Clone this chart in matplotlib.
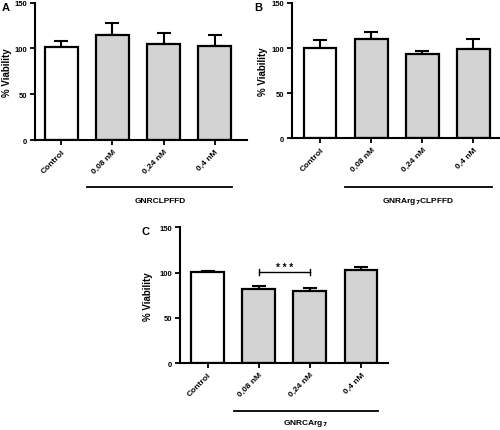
import matplotlib
matplotlib.use("Agg")
import matplotlib.pyplot as plt

plt.rcParams['font.family'] = ['Liberation Sans', 'DejaVu Sans']
plt.rcParams['font.weight'] = 'bold'

categories = ["Control", "0,08 nM", "0,24 nM", "0,4 nM"]
vals_A = [101, 115, 105, 102.5]
err_A = [7.5, 12.5, 11.5, 12]
vals_B = [100.5, 110.5, 93.5, 98.5]
err_B = [8, 7, 3, 11.5]
vals_C = [100.5, 82.5, 80, 102.5]
err_C = [1, 2.5, 3, 4]
group_A = "GNRCLPFFD"
group_B = "GNRArg$_{7}$CLPFFD"
group_C = "GNRCArg$_{7}$"
yticks = [0, 50, 100, 150]

W, H = 500, 431
fig = plt.figure(figsize=(5, 4.31), dpi=100)

def px_axes(left, right, top, bottom):
    return fig.add_axes([left / W, 1 - bottom / H, (right - left) / W, (bottom - top) / H])

def panel(ax, vals, errs, xlim, letter, lx, ly, ylab_x):
    colors = ['white', '#d3d3d3', '#d3d3d3', '#d3d3d3']
    x = list(range(len(vals)))
    ax.bar(x, vals, width=0.64, color=colors, edgecolor='black', linewidth=1.6, zorder=2)
    ax.errorbar(x, vals, yerr=[[0] * len(errs), errs], fmt='none', ecolor='black',
                elinewidth=1.5, capsize=5, capthick=1.5, zorder=1)
    ax.set_xlim(*xlim)
    ax.set_ylim(0, 150)
    ax.set_yticks(yticks)
    ax.set_xticks(x)
    ax.set_xticklabels(categories, rotation=45, ha='right', rotation_mode='anchor',
                       fontsize=6, fontweight='bold')
    ax.tick_params(axis='both', width=1.3, length=3.5, pad=2)
    ax.tick_params(axis='y', labelsize=5.5)
    for lab in ax.get_yticklabels():
        lab.set_fontweight('bold')
    for s in ['top', 'right']:
        ax.spines[s].set_visible(False)
    for s in ['left', 'bottom']:
        ax.spines[s].set_linewidth(1.5)
    ax.set_ylabel("% Viability", fontsize=7, fontweight='bold')
    ax.yaxis.set_label_coords(ylab_x, 0.5)
    fig.text(lx / W, 1 - ly / H, letter, fontsize=8, fontweight='bold', ha='left', va='center')

def group(x0, x1, y, label, ly, cx):
    fig.add_artist(plt.Line2D([x0 / W, x1 / W], [1 - y / H, 1 - y / H], color='black', linewidth=1.3))
    fig.text(cx / W, 1 - ly / H, label, fontsize=6, fontweight='bold', ha='center', va='center')

axA = px_axes(35, 247, 3.5, 141)
panel(axA, vals_A, err_A, (-0.51, 3.63), "A", 2, 8, (12 - 35) / 212)
group(87, 232, 188, group_A, 202, 160)

axB = px_axes(292, 500, 4, 139.3)
panel(axB, vals_B, err_B, (-0.55, 3.52), "B", 254, 8, (268 - 292) / 208)
group(345, 492, 188, group_B, 202, 418)

axC = px_axes(180, 388, 228.3, 364.3)
panel(axC, vals_C, err_C, (-0.54, 3.53), "C", 142, 232, (153 - 180) / 208)
group(234, 378, 412, group_C, 424, 305)

# significance bracket
axC.plot([1, 2], [101, 101], color='black', linewidth=1.0)
axC.plot([1, 1], [97.5, 104.5], color='black', linewidth=1.0)
axC.plot([2, 2], [97.5, 104.5], color='black', linewidth=1.0)
axC.text(1.5, 106.5, "* * *", ha='center', va='center', fontsize=7, fontweight='bold')

fig.savefig("out.png", dpi=100)
